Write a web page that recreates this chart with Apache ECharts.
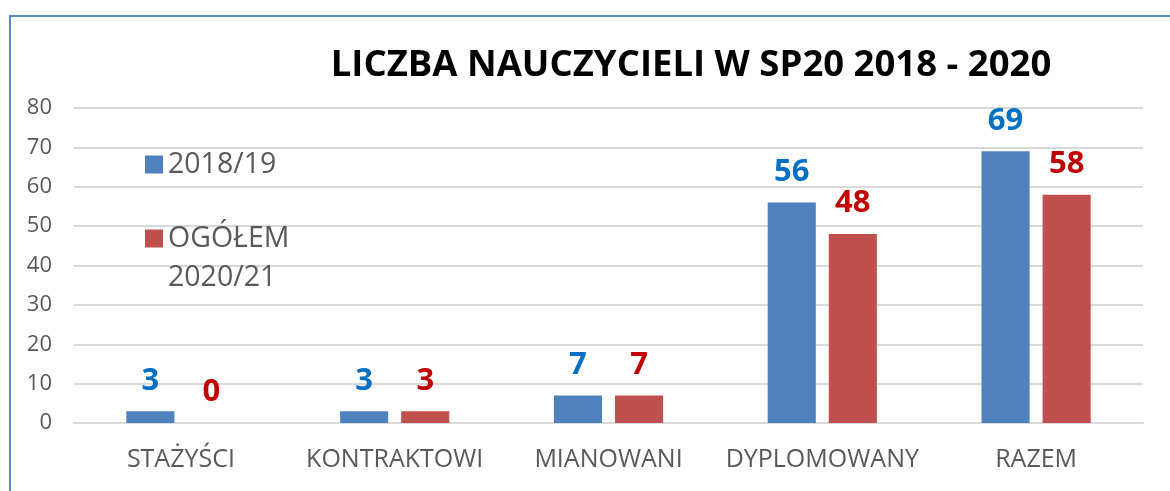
<!DOCTYPE html>
<html>
<head>
<meta charset="utf-8">
<script src="https://cdn.jsdelivr.net/npm/echarts@6/dist/echarts.min.js"></script>
<style>
  html, body { margin: 0; padding: 0; background: #fff; }
  #frame { position: absolute; left: 9px; top: 15px; width: 1180px; height: 500px; border: 2px solid #5b8bc6; box-sizing: border-box; }
  #chart { position: absolute; left: 0; top: 0; width: 1170px; height: 491px; }
</style>
</head>
<body>
<div id="frame"></div>
<div id="chart"></div>
<script>
const categories = ['STAŻYŚCI', 'KONTRAKTOWI', 'MIANOWANI', 'DYPLOMOWANY', 'RAZEM'];
const seriesNames = ['2018/19', 'OGÓŁEM 2020/21'];
const values2018 = [3, 3, 7, 56, 69];
const values2020 = [0, 3, 7, 48, 58];
const yTicks = { min: 0, max: 80, interval: 10 };

const chart = echarts.init(document.getElementById('chart'), null, { renderer: 'canvas' });
const font = '"Open Sans", sans-serif';

function labelStyle(color) {
  return {
    show: true,
    position: 'top',
    distance: 15,
    color: color,
    fontFamily: font,
    fontWeight: 'bold',
    fontSize: 31
  };
}

const legendBase = {
  orient: 'vertical',
  left: 145,
  padding: 0,
  itemWidth: 18,
  itemHeight: 18,
  icon: 'rect',
  textStyle: { fontFamily: font, fontSize: 28.5, color: '#595959', lineHeight: 39 }
};

chart.setOption({
  animation: false,
  textStyle: { fontFamily: font },
  title: {
    text: 'LICZBA NAUCZYCIELI W SP20 2018 - 2020',
    left: 686,
    textAlign: 'center',
    top: 42,
    textStyle: { fontFamily: font, fontWeight: 'bold', fontSize: 36.5, color: '#000' }
  },
  legend: [
    Object.assign({}, legendBase, { top: 145, data: [seriesNames[0]] }),
    Object.assign({}, legendBase, {
      top: 180,
      data: [seriesNames[1]],
      // blank first line keeps the square level with "OGÓŁEM"
      formatter: function (name) { return ' \n' + name.replace(' ', '\n'); }
    })
  ],
  grid: { left: 74, right: 27, top: 108, bottom: 68 },
  xAxis: {
    type: 'category',
    data: categories,
    axisLine: { show: true, lineStyle: { color: '#d9d9d9', width: 2 } },
    axisTick: { show: false },
    axisLabel: { color: '#595959', fontFamily: font, fontSize: 25, margin: 24, interval: 0 }
  },
  yAxis: {
    type: 'value',
    min: yTicks.min,
    max: yTicks.max,
    interval: yTicks.interval,
    axisLine: { show: false },
    axisTick: { show: false },
    splitLine: { lineStyle: { color: '#d9d9d9', width: 2 } },
    axisLabel: { color: '#595959', fontFamily: font, fontSize: 22, margin: 22 }
  },
  series: [
    {
      name: seriesNames[0],
      type: 'bar',
      data: values2018,
      barWidth: '22.5%',
      barGap: '27%',
      itemStyle: { color: '#4f81bd' },
      label: labelStyle('#0070c0')
    },
    {
      name: seriesNames[1],
      type: 'bar',
      data: values2020,
      barWidth: '22.5%',
      itemStyle: { color: '#c0504d' },
      label: labelStyle('#c00000')
    }
  ]
});
</script>
</body>
</html>
